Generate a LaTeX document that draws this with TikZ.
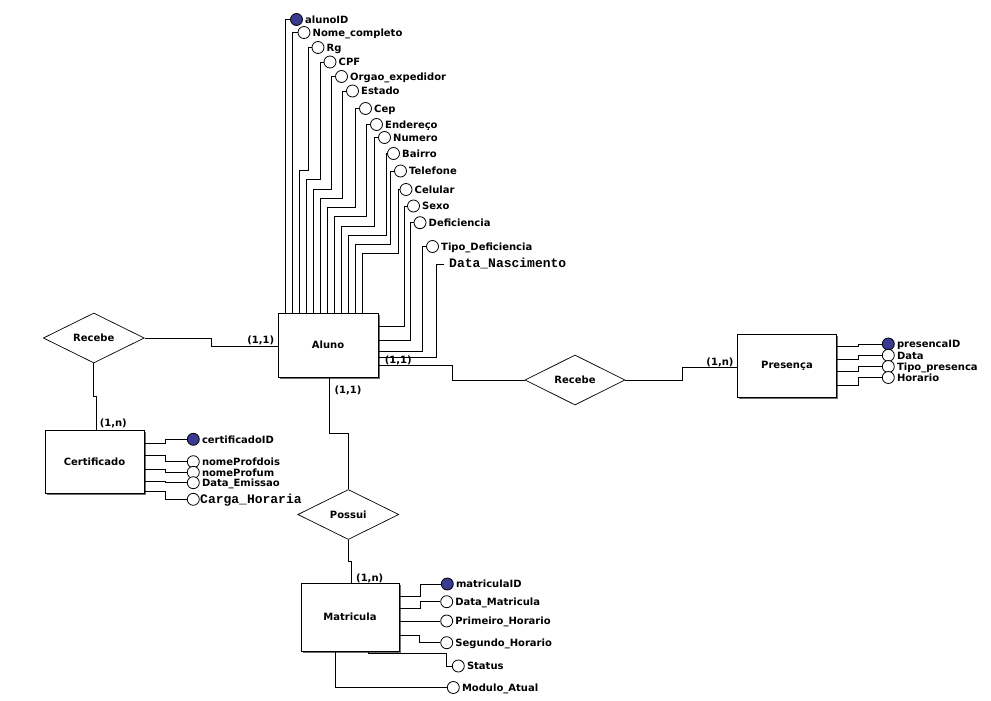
\documentclass[tikz,border=0pt]{standalone}
\usepackage{fontspec}
\setmainfont{DejaVu Sans}
\newfontfamily\monofam{Liberation Mono}
\usetikzlibrary{shapes.geometric,shadows}
\definecolor{keyblue}{RGB}{58,58,145}
\definecolor{shadowgray}{RGB}{110,110,110}

% attribute: circle node #1 at (#2,#3), label #4, circle style #5
\newcommand\erattr[5]{%
  \node[#5] (#1) at (#2,#3) {};
  \node[lbl,anchor=base west] (#1t) at (#2+8.5,#3+3.8) {#4};
}

\begin{document}
\begin{tikzpicture}[x=1pt,y=-1pt,
  lbl/.style={inner sep=0, font=\fontsize{10}{12}\selectfont\bfseries},
  mono/.style={inner sep=0, font=\monofam\fontsize{13}{15}\selectfont\bfseries},
  ent/.style={rectangle, draw, line width=0.9pt, fill=white, inner sep=0,
    font=\fontsize{10}{12}\selectfont\bfseries,
    drop shadow={shadow xshift=1.5pt, shadow yshift=-1.5pt, fill=shadowgray, opacity=1}},
  rel/.style={diamond, draw, line width=0.7pt, fill=white, inner sep=0,
    font=\fontsize{10}{12}\selectfont\bfseries, minimum width=101pt, minimum height=50pt},
  attr/.style={circle, draw, line width=0.8pt, fill=white, minimum size=12pt, inner sep=0},
  keyattr/.style={attr, fill=keyblue},
  link/.style={line width=0.9pt},
  card/.style={inner sep=0, font=\fontsize{10}{12}\selectfont\bfseries}]

\useasboundingbox (0,0) rectangle (991,701);
\fill[white] (0,0) rectangle (991,701);

% ---------- entities ----------
\node[ent, minimum width=100pt, minimum height=64pt] (aluno) at (328,345) {Aluno};
\node[ent, minimum width=99pt, minimum height=63.5pt] (pres) at (787,365.75) {Presença};
\node[ent, minimum width=99pt, minimum height=63pt] (cert) at (94.5,461.5) {Certificado};
\node[ent, minimum width=98pt, minimum height=68pt] (matr) at (350,617) {Matricula};

% ---------- relationships ----------
\node[rel] (recebeA) at (93.8,338) {Recebe};
\node[rel, minimum width=100pt] (recebeB) at (575,380) {Recebe};
\node[rel] (possui) at (348.3,514.5) {Possui};

% ---------- Aluno attributes ----------
\erattr{a1}{296.5}{19.5}{alunoID}{keyattr}
\erattr{a2}{304}{32.5}{Nome\_completo}{attr}
\erattr{a3}{318}{47.5}{Rg}{attr}
\erattr{a4}{330}{62}{CPF}{attr}
\erattr{a5}{341.5}{76.5}{Orgao\_expedidor}{attr}
\erattr{a6}{352.5}{91}{Estado}{attr}
\erattr{a7}{365.5}{108.5}{Cep}{attr}
\erattr{a8}{376.5}{124.5}{Endereço}{attr}
\erattr{a9}{384.5}{137.5}{Numero}{attr}
\erattr{a10}{393.5}{153.5}{Bairro}{attr}
\erattr{a11}{400.5}{171}{Telefone}{attr}
\erattr{a12}{406}{189.5}{Celular}{attr}
\erattr{a13}{413.5}{206}{Sexo}{attr}
\erattr{a14}{420}{222.7}{Deficiencia}{attr}
\erattr{a15}{432.5}{246.5}{Tipo\_Deficiencia}{attr}
\node[mono, anchor=base west] (a16t) at (449,267.7) {Data\_Nascimento};
\coordinate (dn) at (444,264);

% staircase of attribute lines entering the top of Aluno
\draw[link] (a1.west) -| (aluno.north-|285.5,0);
\draw[link] (a2.west) -| (aluno.north-|292.5,0);
\draw[link] (a3.west) -| (308,170) -| (aluno.north-|299.3,0);
\draw[link] (a4.west) -| (320,179) -| (aluno.north-|306.2,0);
\draw[link] (a5.west) -| (331.5,189) -| (aluno.north-|313.2,0);
\draw[link] (a6.west) -| (342.5,198) -| (aluno.north-|320.1,0);
\draw[link] (a7.west) -| (355,207) -| (aluno.north-|327,0);
\draw[link] (a8.west) -| (366.5,216) -| (aluno.north-|334,0);
\draw[link] (a9.west) -| (374,226) -| (aluno.north-|341,0);
\draw[link] (a10.west) -| (386.5,235) -| (aluno.north-|348,0);
\draw[link] (a11.west) -| (390.5,244) -| (aluno.north-|355,0);
\draw[link] (a12.west) -| (398,253) -| (aluno.north-|362,0);
% attribute lines entering the right side of Aluno
\draw[link] (a13.west) -| (404,326.7) -- (aluno.east|-0,326.7);
\draw[link] (a14.west) -| (410.5,340) -- (aluno.east|-0,340);
\draw[link] (a15.west) -| (422,351.7) -- (aluno.east|-0,351.7);
\draw[link] (dn) -| (436.7,357.3) -- (aluno.east|-0,357.3);

% ---------- Presença attributes ----------
\erattr{p1}{888.3}{344}{presencaID}{keyattr}
\erattr{p2}{888.3}{355.3}{Data}{attr}
\erattr{p3}{888.3}{366.5}{Tipo\_presenca}{attr}
\erattr{p4}{888.3}{377.5}{Horario}{attr}
\draw[link] (pres.east|-0,346.7) -| (858,344) -- (p1.west);
\draw[link] (pres.east|-0,359.3) -| (858,355.3) -- (p2.west);
\draw[link] (pres.east|-0,371.7) -| (858,366.5) -- (p3.west);
\draw[link] (pres.east|-0,385) -| (858,377.5) -- (p4.west);

% ---------- Certificado attributes ----------
\erattr{c1}{193.3}{439.3}{certificadoID}{keyattr}
\erattr{c2}{193.3}{461.7}{nomeProfdois}{attr}
\erattr{c3}{193.3}{472.3}{nomeProfum}{attr}
\erattr{c4}{193.3}{482.7}{Data\_Emissao}{attr}
\node[attr] (c5) at (193.3,499.3) {};
\node[mono, anchor=base west] (c5t) at (200,503.3) {Carga\_Horaria};
\draw[link] (cert.east|-0,443.3) -| (165,439.3) -- (c1.west);
\draw[link] (cert.east|-0,455) -| (165,461.7) -- (c2.west);
\draw[link] (cert.east|-0,469.3) -| (165,472.3) -- (c3.west);
\draw[link] (cert.east|-0,481.7) -| (165,482.7) -- (c4.west);
\draw[link] (cert.east|-0,491.7) -| (165,499.3) -- (c5.west);

% ---------- Matricula attributes ----------
\erattr{m1}{447.3}{584}{matriculaID}{keyattr}
\erattr{m2}{446.7}{601.7}{Data\_Matricula}{attr}
\erattr{m3}{446.7}{621}{Primeiro\_Horario}{attr}
\erattr{m4}{446.7}{642.7}{Segundo\_Horario}{attr}
\erattr{m5}{458.3}{666}{Status}{attr}
\erattr{m6}{453.3}{687.5}{Modulo\_Atual}{attr}
\draw[link] (matr.east|-0,596) -| (420,584) -- (m1.west);
\draw[link] (matr.east|-0,608.3) -| (420,601.7) -- (m2.west);
\draw[link] (matr.east|-0,621) -- (m3.west);
\draw[link] (matr.east|-0,635) -| (419.3,642.7) -- (m4.west);
\draw[link] (matr.south-|368.3,0) |- (446.7,653.3) |- (m5.west);
\draw[link] (matr.south-|335,0) |- (m6.west);

% ---------- relationship connectors ----------
\draw[link] (recebeA.east) -| (211.7,346.7) -- (aluno.west|-0,346.7);
\draw[link] (recebeA.south) |- (96.7,396.7) -- (cert.north-|96.7,0);
\draw[link] (aluno.east|-0,365) -| (452.3,380) -- (recebeB.west);
\draw[link] (recebeB.east) -| (682.3,367.7) -- (pres.west|-0,367.7);
\draw[link] (aluno.south-|329.3,0) |- (348.3,433.3) -- (possui.north);
\draw[link] (possui.south) |- (351,561.7) -- (matr.north-|351,0);

% ---------- cardinalities ----------
\node[card] (k1) at (260.8,340.5) {(1,1)};
\node[card] (k2) at (113.3,423) {(1,n)};
\node[card] (k3) at (398.3,360) {(1,1)};
\node[card] (k4) at (720,362) {(1,n)};
\node[card] (k5) at (348,390) {(1,1)};
\node[card] (k6) at (369.7,578) {(1,n)};
\end{tikzpicture}
\end{document}
